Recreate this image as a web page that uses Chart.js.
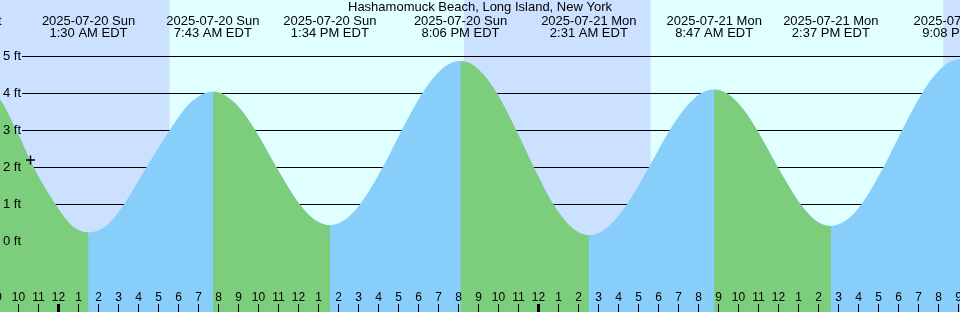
<!DOCTYPE html>
<html>
<head>
<meta charset="utf-8">
<script src="https://cdn.jsdelivr.net/npm/chart.js@4.4.1/dist/chart.umd.min.js"></script>
<style>
html, body { margin: 0; padding: 0; background: #fff; }
canvas { display: block; }
</style>
</head>
<body>
<canvas id="chart" width="960" height="312"></canvas>
<script>
// ---- data (hours counted from 2025-07-20 00:00 EDT) ----
const chartTitle = 'Hashamomuck Beach, Long Island, New York';

const tideHours = [-5.08, -2.9, -2.1, -1.24, -0.15, 0.7, 1.5, 2.4, 3.27, 4.39, 5.55, 6.5,
  7.27, 7.72, 8.16, 9.0, 9.84, 10.9, 12.06, 12.8, 13.57, 14.3, 15.07, 16.21, 17.15, 18.18,
  18.87, 19.5, 20.1, 20.7, 21.27, 21.93, 22.89, 23.77, 24.75, 25.7, 26.52, 27.4, 28.42,
  29.51, 30.55, 31.3, 32.11, 32.78, 33.43, 34.2, 34.94, 35.97, 37.11, 37.85, 38.62, 39.4,
  40.14, 41.24, 42.17, 43.17, 43.82, 44.5, 45.13];
const tideFeet = [4.85, 3.82, 3.0, 2.0, 1.0, 0.41, 0.24, 0.43, 1.0, 2.0, 3.0, 3.70,
  4.0, 4.05, 4.0, 3.64, 3.0, 2.0, 1.0, 0.59, 0.44, 0.58, 1.0, 2.0, 3.0, 4.0,
  4.5, 4.79, 4.88, 4.78, 4.5, 4.0, 3.0, 2.0, 1.0, 0.36, 0.17, 0.36, 1.0,
  2.0, 3.0, 3.59, 4.0, 4.11, 4.0, 3.60, 3.0, 2.0, 1.0, 0.57, 0.42, 0.58,
  1.0, 2.0, 3.0, 4.0, 4.5, 4.84, 4.94];

const eventHours = [-5.08, 1.5, 7.717, 13.567, 20.1, 26.517, 32.783, 38.617, 45.133];
const eventDates = ['2025-07-19 Sat', '2025-07-20 Sun', '2025-07-20 Sun', '2025-07-20 Sun',
  '2025-07-20 Sun', '2025-07-21 Mon', '2025-07-21 Mon', '2025-07-21 Mon', '2025-07-21 Mon'];
const eventTimes = ['6:55 PM EDT', '1:30 AM EDT', '7:43 AM EDT', '1:34 PM EDT', '8:06 PM EDT',
  '2:31 AM EDT', '8:47 AM EDT', '2:37 PM EDT', '9:08 PM EDT'];

const nightStart = [-3.5, 20.27, 44.24];
const nightEnd = [5.55, 29.6, 46.0];

const hourTicks = [];
for (let h = -3; h <= 45; h++) hourTicks.push(h);
const hourLabels = ['9','10','11','12','1','2','3','4','5','6','7','8','9','10','11',
  '12','1','2','3','4','5','6','7','8','9','10','11',
  '12','1','2','3','4','5','6','7','8','9','10','11',
  '12','1','2','3','4','5','6','7','8','9'];

const depthTicks = [0, 1, 2, 3, 4, 5];
const depthLabels = ['0 ft', '1 ft', '2 ft', '3 ft', '4 ft', '5 ft'];

const markerHour = -1.4;
const markerFeet = 2.2;

// ---- styles ----
const FONT = '"Liberation Sans", Arial, sans-serif';
const DAY_BG = '#e0ffff';
const NIGHT_BG = '#cce0ff';
const RISE = '#87cefa';
const FALL = '#7ccd7c';
const NONE = 'rgba(0,0,0,0)';

Chart.defaults.font.family = FONT;
Chart.defaults.color = '#000';

const decorPlugin = {
  id: 'decor',
  beforeDraw(chart) {
    const { ctx, scales: { x } } = chart;
    ctx.save();
    ctx.fillStyle = DAY_BG;
    ctx.fillRect(0, 0, chart.width, chart.height);
    ctx.fillStyle = NIGHT_BG;
    nightStart.forEach((s, i) => {
      const a = x.getPixelForValue(s);
      const b = x.getPixelForValue(nightEnd[i]);
      ctx.fillRect(a, 0, b - a, chart.height);
    });
    ctx.restore();
  },
  beforeDatasetsDraw(chart) {
    const { ctx, scales: { x, y } } = chart;
    ctx.save();
    ctx.strokeStyle = '#000';
    ctx.lineWidth = 1;
    y.ticks.forEach(t => {
      const py = Math.floor(y.getPixelForValue(t.value)) + 0.5;
      ctx.beginPath();
      ctx.moveTo(22, py);
      ctx.lineTo(chart.width, py);
      ctx.stroke();
    });
    ctx.fillStyle = '#000';
    ctx.font = '13px ' + FONT;
    ctx.textAlign = 'center';
    ctx.textBaseline = 'alphabetic';
    eventHours.forEach((h, i) => {
      const px = x.getPixelForValue(h);
      ctx.fillText(eventDates[i], px, 25);
      ctx.fillText(eventTimes[i], px, 37);
    });
    ctx.restore();
  },
  afterDatasetsDraw(chart) {
    const { ctx, scales: { x } } = chart;
    ctx.save();
    ctx.fillStyle = '#000';
    x.ticks.forEach(t => {
      const px = x.getPixelForValue(t.value);
      const w = (t.value % 24 === 0) ? 3 : 1;
      ctx.fillRect(px - w / 2, 304, w, 8);
    });
    ctx.restore();
  }
};

const tidePoints = tideHours.map((h, i) => ({ x: h, y: tideFeet[i] }));
const fillBase = {
  fill: 'start',
  cubicInterpolationMode: 'monotone',
  pointRadius: 0,
  borderWidth: 0,
  borderColor: NONE
};

new Chart(document.getElementById('chart'), {
  type: 'line',
  data: {
    datasets: [
      {
        label: 'now',
        data: [{ x: markerHour, y: markerFeet }],
        showLine: false,
        fill: false,
        pointStyle: 'cross',
        pointRadius: 4.5,
        borderColor: '#000',
        borderWidth: 1.5
      },
      Object.assign({
        label: 'falling',
        data: tidePoints,
        backgroundColor: FALL,
        segment: {
          backgroundColor: c => (c.p1.parsed.y < c.p0.parsed.y ? FALL : NONE)
        }
      }, fillBase),
      Object.assign({
        label: 'rising',
        data: tidePoints,
        backgroundColor: RISE
      }, fillBase)
    ]
  },
  options: {
    responsive: false,
    animation: false,
    devicePixelRatio: 1,
    events: [],
    layout: { padding: 0, autoPadding: false },
    plugins: {
      legend: { display: false },
      tooltip: { enabled: false },
      title: {
        display: true,
        text: chartTitle,
        color: '#000',
        padding: 0,
        font: { size: 13, weight: 'normal', lineHeight: '14px', family: FONT }
      }
    },
    scales: {
      x: {
        type: 'linear',
        min: -2.925,
        max: 45.075,
        bounds: 'data',
        afterBuildTicks: s => { s.ticks = hourTicks.map(v => ({ value: v })); },
        afterFit: s => { s.height = 0; s.paddingLeft = 0; s.paddingRight = 0; },
        grid: { display: false, drawTicks: false },
        border: { display: false },
        ticks: {
          autoSkip: false, maxRotation: 0, minRotation: 0,
          mirror: true, padding: 7, z: 1, color: '#000',
          font: { size: 12, family: FONT },
          callback: v => { const i = hourTicks.indexOf(v); return i >= 0 ? hourLabels[i] : ''; }
        }
      },
      y: {
        type: 'linear',
        min: -1.9054,
        max: 6.1487,
        afterBuildTicks: s => { s.ticks = depthTicks.map(v => ({ value: v })); },
        afterFit: s => { s.width = 0; s.paddingTop = 0; s.paddingBottom = 0; },
        grid: { display: false, drawTicks: false },
        border: { display: false },
        ticks: {
          mirror: true, padding: 3, z: 1, color: '#000',
          font: { size: 13, family: FONT },
          callback: v => { const i = depthTicks.indexOf(v); return i >= 0 ? depthLabels[i] : ''; }
        }
      }
    }
  },
  plugins: [decorPlugin]
});
</script>
</body>
</html>
